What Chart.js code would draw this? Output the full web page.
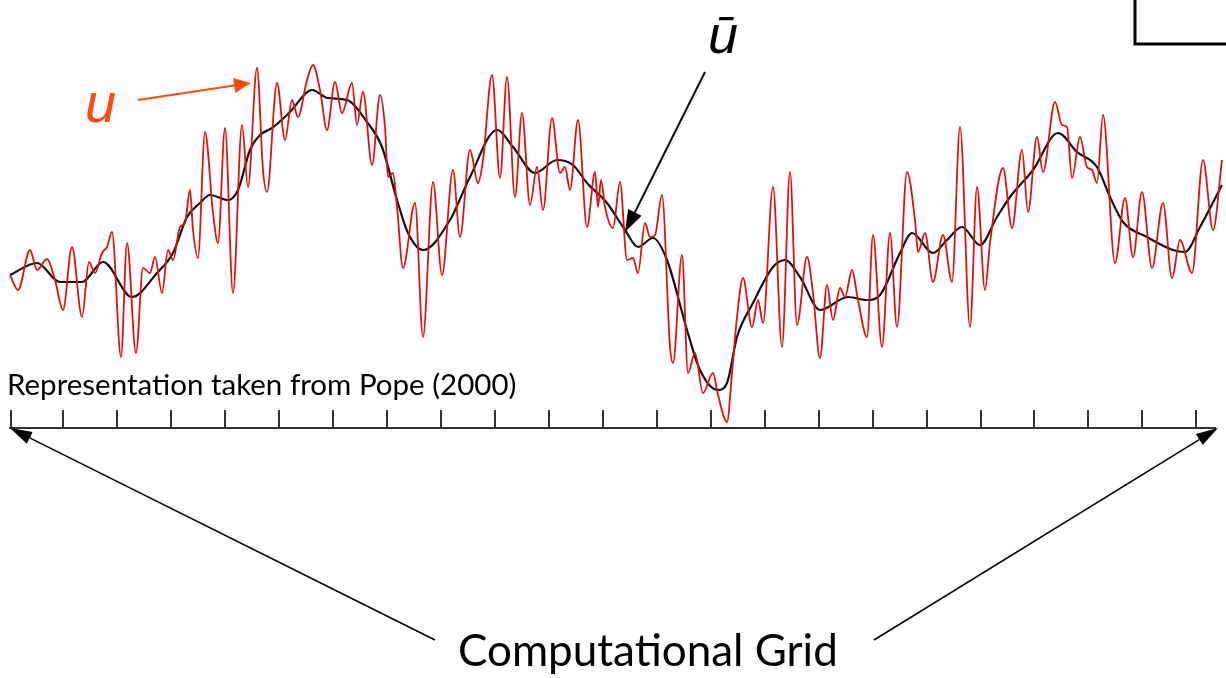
<!DOCTYPE html>
<html>
<head>
<meta charset="utf-8">
<script src="https://cdn.jsdelivr.net/npm/chart.js@4.4.1/dist/chart.umd.min.js"></script>
<style>
  html, body { margin: 0; padding: 0; background: #fff; }
  #wrap { width: 1226px; height: 678px; }
</style>
</head>
<body>
<div id="wrap"><canvas id="popeChart" width="1226" height="678"></canvas></div>
<script>
// instantaneous velocity u (red)
const redX = [0, 8, 20, 27, 37, 45, 53, 62, 72, 79, 85, 92, 97, 102, 111, 117, 126, 133, 140, 145,
  152, 158, 163, 170, 175, 180, 183, 188, 195, 203, 208, 215, 223, 232, 238, 247, 253, 257, 267, 275,
  282, 288, 297, 303, 310, 317, 325, 332, 342, 347, 353, 362, 370, 375, 378, 383, 387, 393, 405, 413,
  423, 432, 443, 450, 460, 468, 473, 482, 490, 497, 505, 512, 520, 527, 533, 542, 550, 555, 560, 568,
  577, 585, 588, 591, 595, 603, 610, 617, 623, 628, 635, 640, 645, 652, 660, 663, 672, 678, 685, 693,
  703, 708, 717, 722, 727, 733, 742, 748, 753, 763, 772, 780, 787, 797, 803, 810, 817, 823, 830, 835,
  842, 848, 857, 863, 872, 880, 887, 897, 905, 908, 915, 923, 933, 942, 950, 960, 967, 975, 980, 993,
  1002, 1012, 1018, 1027, 1033, 1045, 1052, 1057, 1062, 1070, 1077, 1082, 1087, 1093, 1105, 1115, 1123, 1132, 1142, 1153,
  1162, 1170, 1182, 1193, 1203, 1212];
const redU = [15.3, 13.8, 17.8, 15.8, 16.9, 14.8, 11.8, 18.1, 11.1, 16.6, 15.5, 17.5, 18.1, 19.6, 7.1, 18.5, 7.5, 16.0, 15.5, 17.1,
  13.5, 17.8, 16.8, 20.1, 20.5, 23.8, 19.8, 17.0, 29.6, 21.5, 18.5, 30.0, 13.5, 30.3, 24.1, 36.0, 25.8, 23.6, 34.5, 28.8,
  32.8, 31.1, 34.8, 36.3, 33.8, 29.8, 34.6, 31.5, 34.5, 30.3, 33.6, 26.3, 33.3, 30.1, 25.1, 25.5, 22.1, 16.0, 22.5, 9.1,
  24.6, 15.3, 25.8, 19.1, 27.8, 24.5, 26.8, 35.3, 25.0, 35.1, 23.1, 31.5, 22.3, 26.1, 21.8, 31.0, 25.5, 26.1, 23.8, 30.8,
  20.1, 25.6, 22.1, 24.8, 22.1, 20.0, 24.6, 16.8, 17.0, 15.5, 20.5, 19.1, 19.3, 23.3, 8.1, 6.5, 17.3, 5.5, 7.5, 3.5,
  5.5, 3.3, 0.6, 5.5, 11.1, 15.0, 10.1, 12.8, 10.5, 24.1, 8.1, 25.6, 10.3, 17.1, 13.5, 7.0, 14.3, 10.8, 14.0, 13.1,
  15.8, 12.8, 9.1, 19.3, 8.1, 19.5, 10.1, 25.6, 20.8, 17.6, 19.5, 14.6, 19.3, 14.6, 30.1, 10.1, 24.1, 13.8, 18.5, 26.0,
  20.0, 27.8, 21.6, 29.1, 25.6, 32.6, 30.3, 30.1, 25.0, 29.1, 26.1, 25.8, 24.5, 31.3, 16.5, 23.0, 17.1, 23.6, 16.0, 22.5,
  15.0, 18.8, 15.5, 26.8, 19.8, 26.8];

// filtered velocity u-bar (black)
const meanX = [0, 27, 50, 72, 93, 122, 147, 163, 177, 190, 200, 218, 228, 240, 250, 262, 280, 302, 318, 337,
  357, 372, 387, 398, 413, 440, 460, 487, 503, 525, 547, 563, 577, 597, 615, 628, 643, 657, 677, 690,
  708, 717, 727, 743, 763, 775, 790, 810, 838, 857, 870, 890, 902, 923, 937, 952, 970, 987, 1000, 1023,
  1048, 1067, 1087, 1100, 1113, 1137, 1163, 1175, 1190, 1212];
const meanU = [15.3, 16.5, 14.6, 14.6, 16.6, 13.1, 15.5, 17.5, 21.1, 22.5, 23.3, 22.8, 23.8, 27.8, 29.3, 30.0, 31.6, 33.8, 33.0, 32.8,
  30.6, 28.1, 22.8, 19.5, 17.8, 20.8, 25.1, 29.8, 28.1, 25.5, 26.8, 26.3, 24.5, 22.5, 19.8, 18.1, 19.0, 16.8, 9.8, 5.8,
  3.8, 4.5, 9.1, 12.5, 16.1, 16.8, 15.1, 11.8, 13.1, 12.8, 13.3, 17.5, 19.5, 17.5, 18.8, 20.1, 18.3, 21.1, 23.1, 25.8,
  29.5, 27.6, 26.1, 23.1, 20.6, 19.1, 17.8, 17.6, 20.1, 24.3];

// computational grid nodes along x
const gridNodes = [1, 53, 107, 161, 215, 269, 323, 377, 431, 485, 539, 593, 647, 701, 755, 809, 863, 917, 971, 1024,
  1078, 1132, 1186];

function arrow(ctx, x1, y1, x2, y2, color, lw, hl, hw) {
  const ang = Math.atan2(y2 - y1, x2 - x1);
  const bx = x2 - hl * Math.cos(ang), by = y2 - hl * Math.sin(ang);
  ctx.strokeStyle = color;
  ctx.fillStyle = color;
  ctx.lineWidth = lw;
  ctx.beginPath();
  ctx.moveTo(x1, y1);
  ctx.lineTo(bx, by);
  ctx.stroke();
  ctx.beginPath();
  ctx.moveTo(x2, y2);
  ctx.lineTo(bx + hw / 2 * Math.sin(ang), by - hw / 2 * Math.cos(ang));
  ctx.lineTo(bx - hw / 2 * Math.sin(ang), by + hw / 2 * Math.cos(ang));
  ctx.closePath();
  ctx.fill();
}

const annotations = {
  id: "annotations",
  afterDraw(chart) {
    const { ctx, chartArea: a } = chart;
    ctx.save();

    // label u + arrow
    ctx.fillStyle = "#ff4a0a";
    ctx.font = "italic 56px 'Liberation Sans'";
    ctx.textBaseline = "alphabetic";
    ctx.fillText("u", 85, 122);
    arrow(ctx, 138, 100, 251, 83, "#ff4a0a", 2, 17, 15);

    // label u-bar + arrow
    ctx.fillStyle = "#000";
    ctx.font = "italic 54px 'Liberation Sans'";
    ctx.fillText("ū", 708, 53);
    arrow(ctx, 705, 72, 625, 232, "#000", 2, 22, 15);

    // source note
    ctx.font = "29.5px Lato";
    ctx.fillText("Representation taken from Pope (2000)", 7, 395);

    // computational grid label
    ctx.font = "44px Lato";
    ctx.fillText("Computational Grid", 458, 666);
    arrow(ctx, 435, 640, a.left, a.bottom, "#000", 1.5, 22, 13);
    arrow(ctx, 874, 640, a.right + 3, a.bottom, "#000", 1.5, 22, 13);

    // corner box
    ctx.strokeStyle = "#000";
    ctx.lineWidth = 3;
    ctx.beginPath();
    ctx.moveTo(1135, 0);
    ctx.lineTo(1135, 44);
    ctx.lineTo(1226, 44);
    ctx.stroke();
    ctx.restore();
  }
};

new Chart(document.getElementById("popeChart").getContext("2d"), {
  type: "line",
  data: {
    datasets: [
      {
        label: "u",
        data: redX.map((v, i) => ({ x: v, y: redU[i] })),
        borderColor: "#e01010",
        borderWidth: 1.8,
        pointRadius: 0,
        cubicInterpolationMode: "monotone",
        clip: false,
      },
      {
        label: "ū",
        data: meanX.map((v, i) => ({ x: v, y: meanU[i] })),
        borderColor: "#111",
        borderWidth: 2.2,
        pointRadius: 0,
        cubicInterpolationMode: "monotone",
        clip: false,
      },
    ],
  },
  options: {
    responsive: false,
    animation: false,
    layout: { padding: { left: 10, right: 11, top: 48, bottom: 250 } },
    plugins: { legend: { display: false }, tooltip: { enabled: false } },
    scales: {
      x: {
        type: "linear",
        min: 0,
        max: 1205,
        afterBuildTicks: (s) => { s.ticks = gridNodes.map((v) => ({ value: v })); },
        afterFit: (s) => { s.height = 0; },
        ticks: { display: false },
        grid: { drawOnChartArea: false, drawTicks: true, tickLength: -18, color: "#333", lineWidth: 2 },
        border: { display: true, color: "#333", width: 2 },
      },
      y: { display: false, min: 0, max: 38 },
    },
  },
  plugins: [annotations],
});
</script>
</body>
</html>
